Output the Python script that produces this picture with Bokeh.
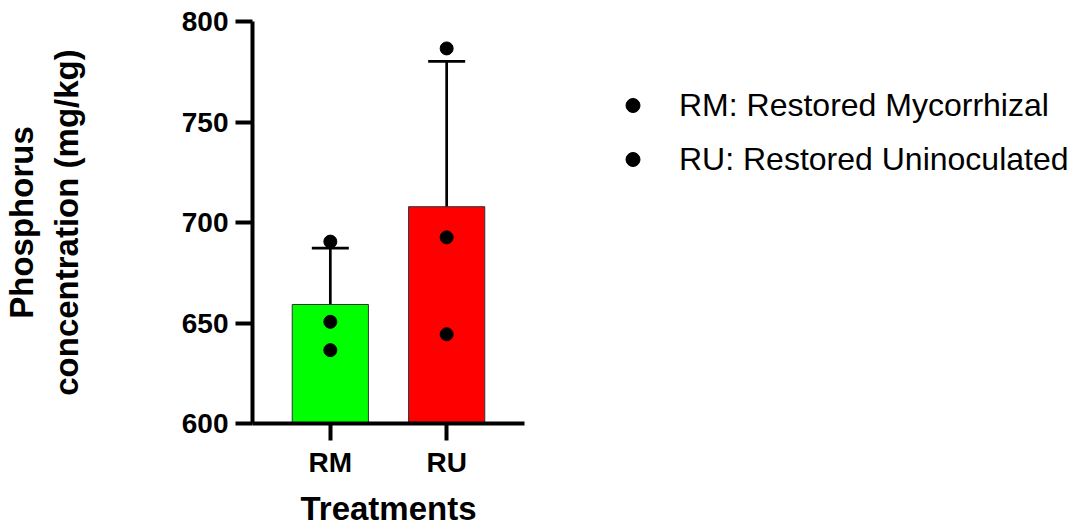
from bokeh.plotting import figure
from bokeh.layouts import row
from bokeh.models import (ColumnDataSource, FactorRange, Range1d, Whisker, TeeHead,
                          Legend, LegendItem, FixedTicker)
from bokeh.embed import file_html
from bokeh.resources import INLINE
import numpy as np

# ---- data ----
categories = ["RM", "RU"]
rm_points = [690.5, 650.6, 636.5]
ru_points = [786.6, 692.6, 644.4]
bar_colors = ["#00FF00", "#FF0000"]
legend_labels = ["RM: Restored Mycorrhizal", "RU: Restored Uninoculated"]
y_ticks = [600, 650, 700, 750, 800]

groups = [rm_points, ru_points]
means = [float(np.mean(g)) for g in groups]
sds = [float(np.std(g, ddof=1)) for g in groups]

bar_src = ColumnDataSource(dict(
    x=categories, top=means, color=bar_colors,
    upper=[m + s for m, s in zip(means, sds)],
    lower=[m - s for m, s in zip(means, sds)],
))

FONT = "Liberation Sans"

p = figure(
    x_range=FactorRange(factors=categories, range_padding=0.169, range_padding_units="absolute"),
    y_range=Range1d(600, 800),
    width=551, height=529, title=None,
    min_border_left=250, min_border_right=27, min_border_top=21, min_border_bottom=105,
    output_backend="svg", toolbar_location=None,
)
p.outline_line_color = None
p.grid.grid_line_color = None

p.vbar(x="x", top="top", bottom=600, width=0.655, source=bar_src,
       fill_color="color", line_color="#333333", line_width=1)

whisk = Whisker(source=bar_src, base="x", upper="upper", lower="lower",
                line_color="black", line_width=2.7,
                upper_head=TeeHead(size=37, line_width=2.7, line_color="black"),
                lower_head=TeeHead(size=37, line_width=2.7, line_color="black"))
p.add_layout(whisk)

point_sources = []
for cat, pts in zip(categories, groups):
    src = ColumnDataSource(dict(x=[cat] * len(pts), y=pts))
    point_sources.append(src)
    p.scatter(x="x", y="y", source=src, size=13, color="black")

# axes styling
for ax in (p.xaxis[0], p.yaxis[0]):
    ax.axis_line_width = 4
    ax.axis_line_color = "black"
    ax.major_tick_line_width = 4
    ax.major_tick_line_color = "black"
    ax.major_tick_out = 17
    ax.major_tick_in = 0
    ax.minor_tick_line_color = None
    ax.major_label_text_font = FONT
    ax.major_label_text_font_style = "bold"
    ax.major_label_text_font_size = "28px"
    ax.major_label_text_color = "black"
    ax.axis_label_text_font = FONT
    ax.axis_label_text_font_style = "bold"
    ax.axis_label_text_font_size = "33px"
    ax.axis_label_text_color = "black"

p.yaxis.ticker = FixedTicker(ticks=y_ticks)
p.yaxis.major_label_standoff = 7
p.xaxis.major_label_standoff = 6
p.yaxis.axis_label = "Phosphorus\nconcentration (mg/kg)"
p.yaxis.axis_label_standoff = 94
p.xaxis.axis_label = "Treatments"
p.xaxis.axis_label_standoff = 9

# ---- legend panel (its point renderers lie outside its visible range) ----
lf = figure(width=527, height=529, x_range=FactorRange(factors=categories),
            y_range=Range1d(0, 1), title=None,
            min_border=0, output_backend="svg", toolbar_location=None,
            x_axis_location=None, y_axis_location=None)
lf.outline_line_color = None
lf.grid.grid_line_color = None

leg_renderers = []
for src in point_sources:
    r = lf.scatter(x="x", y="y", source=src, size=14, color="black")
    leg_renderers.append(r)

legend = Legend(
    items=[LegendItem(label=lab, renderers=[r]) for lab, r in zip(legend_labels, leg_renderers)],
    location="top_left",
    border_line_color=None, background_fill_alpha=0,
    padding=0, margin=64, spacing=14,
    glyph_width=35, glyph_height=40, label_height=40, label_standoff=29,
    label_text_font=FONT, label_text_font_size="32px", label_text_color="black",
)
lf.add_layout(legend, "center")

layout = row(p, lf)
open("out.html", "w").write(file_html(layout, INLINE))
